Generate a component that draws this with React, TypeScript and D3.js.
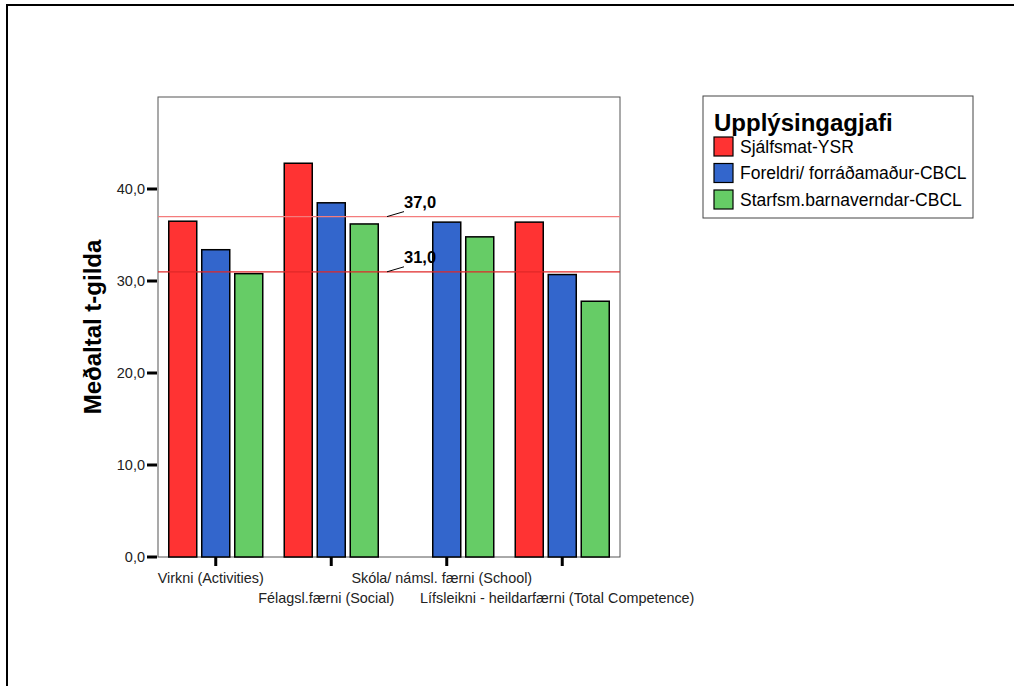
import React from "react";
import * as d3 from "d3";

const categories = [
  "Virkni (Activities)",
  "Félagsl.færni (Social)",
  "Skóla/ námsl. færni (School)",
  "Lífsleikni - heildarfærni (Total Competence)",
];
const seriesNames = ["Sjálfsmat-YSR", "Foreldri/ forráðamaður-CBCL", "Starfsm.barnaverndar-CBCL"];
const seriesColors = ["#ff3333", "#3366cc", "#66cc66"];
const ysr: (number | null)[] = [36.5, 42.8, null, 36.4];
const parents: (number | null)[] = [33.4, 38.5, 36.4, 30.7];
const staff: (number | null)[] = [30.8, 36.2, 34.8, 27.8];
const yTicks = [0, 10, 20, 30, 40];
const refLines = [
  { value: 37, label: "37,0", color: "#f47c7c" },
  { value: 31, label: "31,0", color: "#e02828" },
];

const series = [ysr, parents, staff];
const font = "'Liberation Sans', Arial, sans-serif";

export default function App() {
  const W = 1014, H = 686;
  const left = 158, right = 620, top = 97, bottom = 557;
  const x = d3.scaleBand<string>().domain(categories).range([left, right]).padding(0);
  const y = d3.scaleLinear().domain([0, 50]).range([bottom, top]);
  const barW = 28, step = 33;
  const fmt = (v: number) => v.toFixed(1).replace(".", ",");

  return (
    <svg width={W} height={H} style={{ position: "absolute", left: 0, top: 0, fontFamily: font }}>
      <rect x={0} y={0} width={W} height={H} fill="#fff" />
      <rect x={7} y={5} width={W + 20} height={H + 20} fill="none" stroke="#000" strokeWidth={2} />
      {/* plot frame */}
      <rect x={left} y={top} width={right - left} height={bottom - top} fill="none" stroke="#555" strokeWidth={1} />
      {/* y axis */}
      {yTicks.map((t) => (
        <g key={t}>
          <line x1={147} x2={157} y1={y(t)} y2={y(t)} stroke="#000" strokeWidth={3} />
          <text x={145} y={y(t)} dy="0.35em" textAnchor="end" fontSize={14.5} fill="#222">
            {fmt(t)}
          </text>
        </g>
      ))}
      <text
        transform={`translate(101,${(top + bottom) / 2}) rotate(-90)`}
        textAnchor="middle"
        fontSize={24}
        fontWeight="bold"
        fill="#000"
      >
        Meðaltal t-gilda
      </text>
      {/* bars */}
      {categories.map((c, ci) => {
        const cx = (x(c) as number) + x.bandwidth() / 2;
        return (
          <g key={c}>
            {series.map((s, si) => {
              const v = s[ci];
              if (v == null) return null;
              const bx = cx + (si - 1) * step - barW / 2;
              return (
                <rect
                  key={si}
                  x={bx}
                  y={y(v)}
                  width={barW}
                  height={y(0) - y(v)}
                  fill={seriesColors[si]}
                  stroke="#000"
                  strokeWidth={1.5}
                />
              );
            })}
            <line x1={cx} x2={cx} y1={bottom} y2={bottom + 9} stroke="#000" strokeWidth={3} />
            <text x={cx - 5} y={ci % 2 === 0 ? 583 : 603} textAnchor="middle" fontSize={14.4} fill="#222">
              {c}
            </text>
          </g>
        );
      })}
      {/* reference lines */}
      {refLines.map((r) => (
        <g key={r.label}>
          <line x1={left} x2={right} y1={y(r.value)} y2={y(r.value)} stroke={r.color} strokeWidth={1.3} />
          <line x1={387} x2={404} y1={y(r.value)} y2={y(r.value) - 5} stroke="#000" strokeWidth={1} />
          <text x={404} y={y(r.value) - 9} fontSize={16.5} fontWeight="bold" fill="#000">
            {r.label}
          </text>
        </g>
      ))}
      {/* legend */}
      <rect x={703} y={96} width={270} height={122} fill="#fff" stroke="#444" strokeWidth={1} />
      <text x={714} y={131} fontSize={24} fontWeight="bold" fill="#000">
        Upplýsingagjafi
      </text>
      {seriesNames.map((n, i) => (
        <g key={n}>
          <rect x={714} y={137 + i * 26.5} width={19} height={19} fill={seriesColors[i]} stroke="#000" strokeWidth={1.2} />
          <text x={740} y={146.5 + i * 26.5} dy="0.36em" fontSize={17.5} fill="#000">
            {n}
          </text>
        </g>
      ))}
    </svg>
  );
}
